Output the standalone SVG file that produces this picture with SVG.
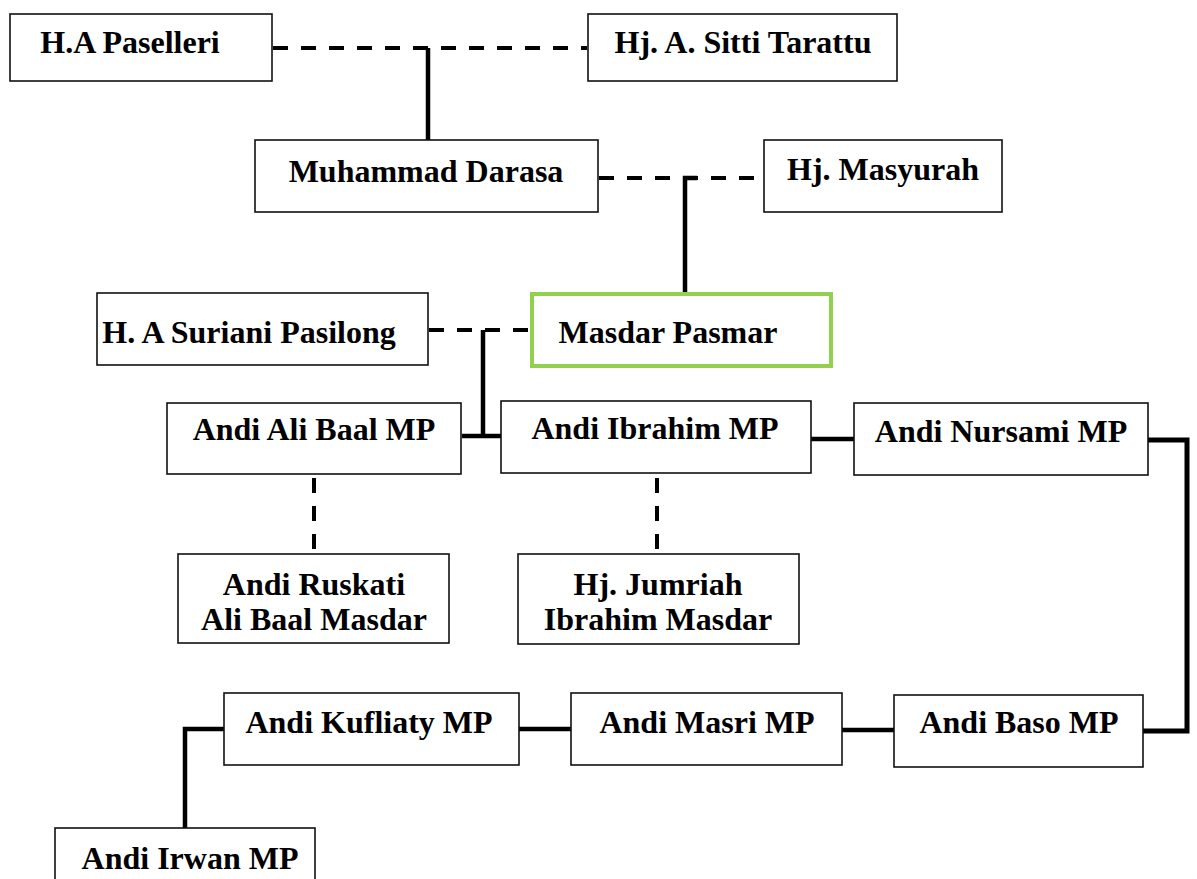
<svg xmlns="http://www.w3.org/2000/svg" width="1197" height="879" viewBox="0 0 1197 879">
<style>
.box{fill:#fff;stroke:#111;stroke-width:1.6}
.main{fill:#fff;stroke:#92d050;stroke-width:4}
.t{font-family:"Liberation Serif","Times New Roman",serif;font-weight:bold;font-size:32px;fill:#000;text-anchor:middle}
.solid{fill:none;stroke:#000;stroke-width:4.5}
.dash{fill:none;stroke:#000;stroke-width:4;stroke-dasharray:15 13}
</style>
<rect width="1197" height="879" fill="#fff"/>
<g id="connectors">
<path class="dash" d="M273,48 H587"/>
<path class="solid" d="M428,48 V140"/>
<path class="dash" d="M599,178 H763"/>
<path class="solid" d="M685,293 V178 H697"/>
<path class="dash" d="M429,330 H530"/>
<path class="solid" d="M483,330 V436"/>
<path class="solid" d="M462,436 H501"/>
<path class="solid" d="M811,439 H854"/>
<path class="solid" d="M1148,440 H1187 V731 H1143" style="stroke-width:5"/>
<path class="solid" d="M842,730 H894"/>
<path class="solid" d="M519,729 H571"/>
<path class="solid" d="M224,729 H185 V828"/>
<path class="dash" d="M314,478 V554"/>
<path class="dash" d="M657,478 V554"/>
</g>
<g id="n-paselleri"><rect class="box" x="10" y="14" width="262" height="67"/><text class="t" x="130" y="53">H.A Paselleri</text></g>
<g id="n-sitti"><rect class="box" x="588" y="14" width="309" height="67"/><text class="t" x="743" y="53">Hj. A. Sitti Tarattu</text></g>
<g id="n-darasa"><rect class="box" x="255" y="140" width="343" height="72"/><text class="t" x="426" y="182">Muhammad Darasa</text></g>
<g id="n-masyurah"><rect class="box" x="764" y="140" width="238" height="72"/><text class="t" x="883" y="180">Hj. Masyurah</text></g>
<g id="n-suriani"><rect class="box" x="97" y="293" width="331" height="72"/><text class="t" x="249" y="343">H. A Suriani Pasilong</text></g>
<g id="n-masdar"><rect class="main" x="532" y="294" width="299" height="72"/><text class="t" x="668" y="343">Masdar Pasmar</text></g>
<g id="n-alibaal"><rect class="box" x="167" y="403" width="294" height="71"/><text class="t" x="314" y="440">Andi Ali Baal MP</text></g>
<g id="n-ibrahim"><rect class="box" x="501" y="401" width="310" height="72"/><text class="t" x="655" y="439">Andi Ibrahim MP</text></g>
<g id="n-nursami"><rect class="box" x="854" y="403" width="294" height="72"/><text class="t" x="1001" y="442">Andi Nursami MP</text></g>
<g id="n-ruskati"><rect class="box" x="178" y="554" width="271" height="89"/><text class="t" x="314" y="595">Andi Ruskati</text><text class="t" x="314" y="630">Ali Baal Masdar</text></g>
<g id="n-jumriah"><rect class="box" x="518" y="554" width="281" height="90"/><text class="t" x="658" y="595">Hj. Jumriah</text><text class="t" x="658" y="630">Ibrahim Masdar</text></g>
<g id="n-kufliaty"><rect class="box" x="224" y="693" width="295" height="72"/><text class="t" x="369" y="733">Andi Kufliaty MP</text></g>
<g id="n-masri"><rect class="box" x="571" y="693" width="271" height="72"/><text class="t" x="707" y="733">Andi Masri MP</text></g>
<g id="n-baso"><rect class="box" x="894" y="695" width="249" height="72"/><text class="t" x="1019" y="733">Andi Baso MP</text></g>
<g id="n-irwan"><rect class="box" x="55" y="828" width="260" height="80"/><text class="t" x="190" y="869">Andi Irwan MP</text></g>
</svg>
